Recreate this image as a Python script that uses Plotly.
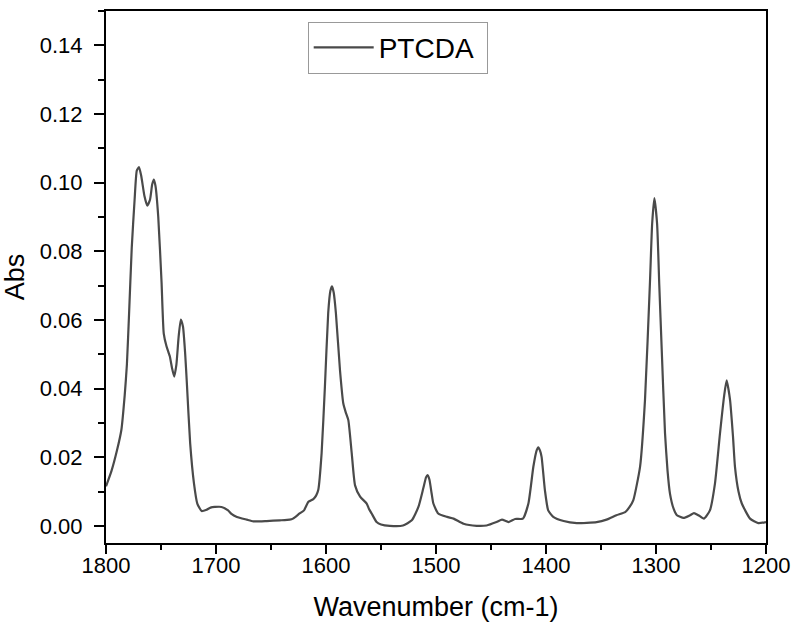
import plotly.graph_objects as go

wavenumber = [
    1800, 1795, 1790, 1786, 1783, 1781, 1779, 1776.6, 1774, 1772, 1770, 1768, 1765,
    1762.5, 1760, 1758, 1756.5, 1755, 1752.5, 1749.5, 1747.5, 1745, 1742, 1740, 1738,
    1736, 1734, 1732, 1730, 1728, 1726.5, 1723.5, 1720, 1717, 1713, 1708.5, 1705, 1701,
    1695, 1689, 1686, 1681, 1672, 1666, 1654, 1642, 1633, 1630, 1624, 1620, 1616, 1611.5,
    1609, 1607, 1604, 1601, 1598, 1596, 1594.5, 1593, 1591, 1587.3, 1584.3, 1582, 1579.7,
    1576.6, 1573.6, 1569, 1563, 1561, 1558.5, 1554, 1550, 1542, 1530, 1522, 1516, 1511.5,
    1509, 1507.6, 1506, 1504, 1502.4, 1498, 1490, 1484, 1475, 1463, 1454, 1445, 1440,
    1434, 1428, 1421, 1416, 1411.5, 1408.5, 1407, 1405.5, 1404, 1401, 1398, 1393.4, 1384,
    1372, 1354, 1345, 1336, 1328, 1324, 1320.6, 1314.5, 1310, 1305.5, 1303.5, 1301.5,
    1299, 1297, 1294.8, 1291.8, 1289.5, 1287.3, 1284, 1281, 1275, 1269, 1265.5, 1261.5,
    1256.4, 1251, 1246.4, 1241.8, 1238, 1235.8, 1232.7, 1230, 1228.2, 1225, 1222, 1214.5,
    1207, 1200,
]
absorbance = [
    0.0115, 0.016, 0.022, 0.028, 0.038, 0.047, 0.062, 0.081, 0.095, 0.1035, 0.1045, 0.102, 0.096,
    0.0933, 0.095, 0.0995, 0.1009, 0.099, 0.090, 0.071, 0.056, 0.0523, 0.0494, 0.046, 0.0435,
    0.047, 0.055, 0.0601, 0.058, 0.050, 0.0416, 0.0241, 0.0123, 0.0065, 0.0043, 0.0047, 0.0053, 0.0055,
    0.0055, 0.0045, 0.0035, 0.0026, 0.0018, 0.0013, 0.0014, 0.0016, 0.0018, 0.0021, 0.0036, 0.0045, 0.0070, 0.0078,
    0.0088, 0.0105, 0.0211, 0.0405, 0.062, 0.0685, 0.0698, 0.068, 0.062, 0.0454, 0.0357, 0.033, 0.0308,
    0.0211, 0.0118, 0.0085, 0.0065, 0.0050, 0.0036, 0.0011, 0.0004, 0.0, 0.0001, 0.0016, 0.0055, 0.0110,
    0.0142, 0.0148, 0.0135, 0.0095, 0.0065, 0.0036, 0.0026, 0.0021, 0.0006, 0.0, 0.0001, 0.0011, 0.0018,
    0.0011, 0.0020, 0.0021, 0.0065, 0.0172, 0.0220, 0.0229, 0.0220, 0.0201, 0.0104, 0.0045, 0.0026, 0.0014,
    0.0008, 0.0011, 0.0018, 0.0031, 0.0040, 0.0055, 0.0075, 0.0172, 0.0367, 0.0709, 0.088, 0.0955,
    0.088, 0.070, 0.0514, 0.027, 0.016, 0.0094, 0.0050, 0.0031, 0.0023, 0.0031, 0.0037, 0.0031,
    0.0021, 0.0045, 0.0123, 0.027, 0.038, 0.0424, 0.0367, 0.026, 0.0172, 0.010, 0.0065, 0.0021,
    0.0008, 0.0011,
]

x_ticks = [1800, 1700, 1600, 1500, 1400, 1300, 1200]
y_ticks = [0.00, 0.02, 0.04, 0.06, 0.08, 0.10, 0.12, 0.14]

FONT = "Liberation Sans, Arial, sans-serif"

fig = go.Figure()
fig.add_trace(go.Scatter(
    x=wavenumber, y=absorbance, mode="lines", name="PTCDA",
    line=dict(color="#4a4a4a", width=2.2, shape="spline", smoothing=0.5),
))

axis_common = dict(
    showline=True, linecolor="black", linewidth=2, mirror=True,
    ticks="outside", tickwidth=2, tickcolor="black",
    showgrid=False, zeroline=False, automargin=False,
    tickfont=dict(family=FONT, size=22, color="black"),
)

fig.update_layout(
    width=795, height=626,
    margin=dict(l=106, r=29, t=11, b=83),
    paper_bgcolor="white", plot_bgcolor="white",
    font=dict(family=FONT, color="black"),
    xaxis=dict(
        **axis_common,
        range=[1800, 1200], tickvals=x_ticks, ticklen=9,
        minor=dict(dtick=50, ticklen=5, tickwidth=2, tickcolor="black", ticks="outside"),
        ticklabelstandoff=-7,
        title=dict(text="Wavenumber (cm-1)", font=dict(family=FONT, size=27), standoff=20),
    ),
    yaxis=dict(
        **axis_common,
        range=[-0.005, 0.150], tickvals=y_ticks, tickformat=".2f", ticklen=10,
        minor=dict(dtick=0.01, ticklen=6, tickwidth=2, tickcolor="black", ticks="outside"),
        ticklabelstandoff=7,
        title=dict(text="Abs", font=dict(family=FONT, size=27), standoff=10),
    ),
    showlegend=True,
    legend=dict(
        x=0.3056, y=0.98, xanchor="left", yanchor="top",
        orientation="h", entrywidth=103, entrywidthmode="pixels",
        bgcolor="white", bordercolor="#999999", borderwidth=1,
        font=dict(family=FONT, size=28, color="black"),
        itemwidth=60,
    ),
)

fig.write_html("out.html")
